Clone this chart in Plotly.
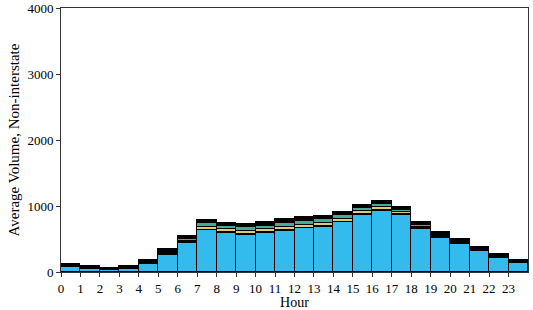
import plotly.graph_objects as go

hours = list(range(24))
tick_labels = [str(h) for h in hours]

blue = [71, 45, 30, 41, 121, 258, 440, 636, 596, 561, 591, 626, 662, 686, 753, 864, 929, 864, 657, 515, 419, 323, 212, 141]
dark_low = [5, 4, 4, 5, 6, 8, 8, 8, 8, 9, 9, 9, 9, 9, 8, 8, 8, 8, 8, 8, 8, 6, 6, 5]
yellow = [3, 3, 2, 3, 4, 10, 25, 44, 43, 50, 48, 50, 48, 48, 47, 45, 42, 30, 18, 10, 8, 5, 4, 3]
teal = [5, 4, 4, 5, 8, 16, 30, 50, 50, 56, 55, 56, 55, 55, 53, 52, 49, 40, 28, 20, 15, 10, 8, 5]
black_top = [33, 30, 25, 41, 43, 52, 47, 50, 50, 56, 55, 57, 55, 55, 53, 51, 48, 43, 42, 48, 50, 40, 43, 33]

series = [
    ("Passenger", blue, "#33bbee"),
    ("Class A", dark_low, "#222222"),
    ("Class B", yellow, "#ddcc77"),
    ("Class C", teal, "#44aa99"),
    ("Class D", black_top, "#000000"),
]

xc = [h + 0.5 for h in hours]
fig = go.Figure()
for name, vals, col in series:
    fig.add_trace(go.Bar(x=xc, y=vals, name=name, width=1.0,
                         marker=dict(color=col, line=dict(color="black", width=1.2))))

fig.update_layout(
    barmode="stack", bargap=0,
    width=533, height=310,
    margin=dict(l=61, r=5, t=8, b=38),
    paper_bgcolor="white", plot_bgcolor="white",
    showlegend=False,
    font=dict(family="Liberation Serif", size=13, color="black"),
)
fig.update_xaxes(range=[0, 24], tickmode="array", tickvals=hours, ticktext=tick_labels,
                 ticks="outside", ticklen=4, tickcolor="#333", showline=True, linecolor="#333",
                 mirror=True, showgrid=False, zeroline=False, automargin=False,
                 title=dict(text="Hour", standoff=2, font=dict(size=14)), tickfont=dict(size=13))
fig.update_yaxes(range=[0, 4000], tickvals=[0, 1000, 2000, 3000, 4000],
                 ticks="outside", ticklen=4, tickcolor="#333", showline=True, linecolor="#333",
                 mirror=True, showgrid=False, zeroline=False, automargin=False,
                 title=dict(text="Average Volume, Non-interstate", standoff=4, font=dict(size=15)),
                 tickfont=dict(size=13))

fig.write_html("out.html", config={"displayModeBar": False},
               post_script="document.body.style.margin='0';document.body.style.overflow='hidden';")
